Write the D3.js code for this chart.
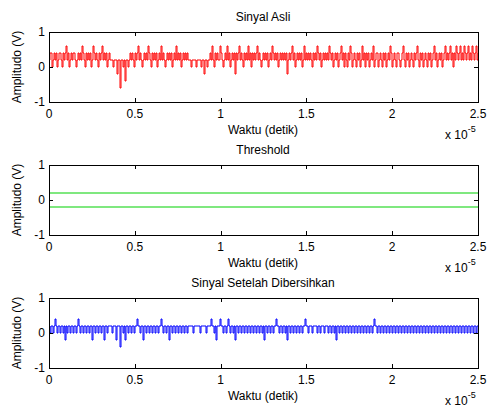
<!DOCTYPE html>
<meta charset="utf-8">
<script src="https://d3js.org/d3.v7.min.js"></script>
<style>
    body { margin: 0; background: #fff; }
    text { font-family: "Liberation Sans", Arial, sans-serif; font-size: 12px; fill: #000; }
    .box { fill: none; stroke: #000; stroke-width: 1; shape-rendering: crispEdges; }
    .tick { stroke: #000; stroke-width: 1; shape-rendering: crispEdges; }
</style>
<body>
<script>
    // tick labels
    var xTicks = [0, 0.5e-5, 1e-5, 1.5e-5, 2e-5, 2.5e-5]
    var xTickLabels = ["0", "0.5", "1", "1.5", "2", "2.5"]
    var yTicks = [-1, 0, 1]
    var titles = ["Sinyal Asli", "Threshold", "Sinyal Setelah Dibersihkan"]

    // sinyal asli (V)
    var sinyalAsli = [
        0.2,0.4,0.4,0,0.2,0.4,0.2,0.4,0,0.2, 0.4,0.4,0.2,0,0.4,0.2,0.4,0.6,0.2,0.4,
        0,0.2,0.4,0.2,0.4,0.4,0.2,0,0.2,0.4, 0.2,0.4,0.2,0.6,0.4,0.2,0,0.4,0.2,0.4,
        0.2,0.4,0,0.2,0.6,0.4,0.2,0.4,0.2,0, 0.4,0.2,0.4,0.6,0.2,0.4,0.2,0.4,0,0.2,
        0.4,0.2,0.2,0.2,0,0.2,0.2,0.2,-0.2,0.2, 0.2,-0.6,0.2,0.2,0,0.2,-0.4,0.2,0.2,0,
        0.2,0.4,0.2,0.4,0.2,0,0.4,0.2,0.4,0.6, 0.2,0.4,0.2,0,0.2,0.4,0.2,0.4,0.2,0.6,
        0.4,0.2,0,0.4,0.2,0.4,0.2,0.4,0,0.2, 0.4,0.2,0.6,0.2,0.4,0.2,0,0.2,0.4,0.2,
        0.4,0.2,0.4,0,0.2,0.4,0.2,0.6,0.2,0.4, 0.2,0.4,0,0.2,0.4,0.2,0.4,0.2,0.4,0.2,
        0.2,0.2,0,0.2,0.2,0.2,0.2,0,0.2,0.2, 0.2,0.2,0,0.2,0.2,-0.2,0.2,0.2,0,0.2,
        0.2,0.4,0.2,0.6,0.2,0,0.4,0.2,0.4,0.2, 0.2,0.6,0.4,0.2,0,0.2,0.4,0.2,0.6,0.2,
        0.4,0,0.2,0.4,0.2,0.4,-0.2,0.4,0.2,0.4, 0.6,0.2,0.4,0.2,0,0.4,0.2,0.4,0.2,0.6,
        0.2,0.4,0,0.4,0.2,0.4,0.2,0.4,0.6,0.2, 0.4,0.2,0,0.2,0.4,0.2,0.4,0.2,0.4,0,
        0.2,0.4,0.2,0.6,0.4,0.2,0.4,0.2,0.4,0, 0.2,0.4,0.2,0.4,0.2,0.4,0.2,0.4,-0.2,0.2,
        0.4,0.2,0.4,0.6,0.2,0.4,0,0.2,0.4,0.2, 0.4,0.2,0.4,0,0.2,0.6,0.2,0.4,0.2,0.4,
        0.2,0.4,0.2,0,0.4,0.2,0.4,0.2,0.6,0.4, 0.2,0.4,0,0.2,0.4,0.2,0.4,0.2,0.4,0.2,
        0.6,0.4,0.2,0.4,0,0.2,0.4,0.2,0.4,0, 0.2,0.4,0.6,0.2,0.4,0,0.4,0.2,0,0.4,
        0.2,0.6,0.4,0,0.2,0.4,0.2,0,0.4,0.2, 0.4,0,0.2,0.6,0.2,0.4,0,0.4,0.2,0.4,
        0,0.2,0.4,0.2,0.6,0,0.2,0.4,0.4,0, 0.2,0.4,0.2,0,0.4,0.2,0.4,0,0.2,0.4,
        0.2,0.6,0.4,0,0.2,0.4,0.2,0,0.4,0.4, 0.2,0,0.2,0.4,0.6,0.2,0,0.4,0.2,0.4,
        0,0.2,0.4,0.2,0,0.4,0.2,0.4,0.6,0.2, 0,0.4,0.2,0.4,0,0.2,0.4,0.2,0,0.4,
        0.2,0.4,0,0.2,0.4,0.6,0.2,0.4,0,0.2, 0.4,0.2,0.4,0,0.2,0.4,0.6,0.2,0.4,0.2,
        0.4,0.6,0.2,0.4,0,0.4,0.2,0.6,0.4,0.2, 0.4,0.6,0.2,0.4,0.2,0.6,0.4,0.2,0.4,0.6,
        0.2,0.4,0.2,0.6,0.4,0.2,0.4,0.6,0.2,0.4
    ]

    // threshold levels (V)
    var thresholdAtas = [0.2, 0.2]
    var thresholdBawah = [-0.2, -0.2]

    // sinyal setelah dibersihkan (V)
    var sinyalBersih = [
        0.2,0,0.2,0.2,0,0.2,0.4,0.2,0,0.2, 0.2,0,0.2,0.2,0,0.2,-0.2,0.2,0,0.2,
        0.2,0,0.2,0.2,0,0.2,0.2,0,0.2,0.4, 0.2,0,0.2,0.2,0,0.2,0.2,0,0.2,0.2,
        0,0.2,0.2,-0.2,0.2,0.2,0,0.2,0.2,0, 0.2,0.2,0,0.2,0.2,-0.2,0.2,0.2,0,0.2,
        0.2,0.2,0.2,0,0.2,0.2,0.2,-0.2,0.2,0.2, 0.2,-0.4,0.2,0.2,0,0.2,-0.2,0.2,0.2,0,
        0.2,0.2,0,0.2,0.2,0,0.2,0.2,0.4,0.2, 0.2,0,0.2,0.2,-0.2,0.2,0.2,0,0.2,0.2,
        0,0.2,0.2,0,0.2,0.2,0,0.2,0.2,0, 0.2,0.2,0.4,0.2,0,0.2,0.2,0,0.2,0.2,
        -0.2,0.2,0.2,0,0.2,0.2,0,0.2,0.2,0, 0.2,0.2,0,0.2,0.2,0,0.2,0.2,0,0.2,
        0.2,0.2,0.2,0.2,0,0.2,0.2,0.2,0.2,0.2, 0.2,0,0.2,0.2,0.2,0.2,0.2,0,0.2,0.2,
        0.2,0.2,0.4,0.2,0.2,0,0.2,-0.2,0.2,0.2, 0.2,0.4,0.2,0.2,0,0.2,0.2,0,0.2,0.4,
        0.2,0,0.2,0.2,0,0.2,-0.2,0.2,0.2,0, 0.2,0.2,0,0.2,0.2,0,0.2,0.2,0,0.2,
        0.2,0,0.2,0.2,0,0.2,0.2,0,0.2,0.2, 0,0.2,0.2,0,0.2,-0.2,0.2,0.2,0,0.2,
        0.2,0,0.2,0.2,0,0.2,0.2,0.4,0.2,0.2, 0,0.2,0.2,0,0.2,0.2,0,0.2,-0.2,0.2,
        0.2,0,0.2,0.2,0,0.2,0.2,0,0.2,0.2, 0,0.2,0.2,0,0.2,0.2,0.4,0.2,0.2,0,
        0.2,0.2,0.2,0,0.2,0.2,0.2,0.2,0,0.2, 0.2,0,0.2,0.2,0.2,0,0.2,0.2,0.2,0,
        0.2,0.2,0,0.2,0.2,0,0.2,-0.2,0.2,0.2, 0,0.2,0.2,0,0.2,0.2,0,0.2,0.2,0,
        0.2,0.2,0,0.2,0.2,0,0.2,0.2,0,0.2, 0.2,0,0.2,0.2,0,0.2,0.2,0,0.2,0.2,
        0,0.2,0.2,0,0.2,0.4,0.2,0.2,0,0.2, 0.2,0,0.2,0.2,0,0.2,0.2,0,0.2,0.2,
        0,0.2,0.2,0,0.2,0.2,0,0.2,0.2,0, 0.2,0.2,0,0.2,0.2,0,0.2,0.2,0,0.2,
        0.2,0,0.2,0.2,0,0.2,0.2,0,0.2,0.2, 0,0.2,0.2,0,0.2,0.2,0,0.2,0.2,0,
        0.2,0.2,0,0.2,0.2,0,0.2,0.2,0,0.2, 0.2,0,0.2,0.2,0,0.2,0.2,0,0.2,0.2,
        0,0.2,0.2,0,0.2,0.2,0,0.2,0.2,0, 0.2,0.2,0,0.2,0.2,0,0.2,0.2,0,0.2,
        0.2,0,0.2,0.2,0,0.2,0.2,0,0.2,0.2
    ]

    const width = 488, height = 407;
    const tEnd = 2.5e-5;

    var svg = d3.select("body").append("svg")
        .attr("width", width)
        .attr("height", height);

    var x = d3.scaleLinear().domain([0, tEnd]).range([49, 478]);

    function toPoints(vals) {
        var n = vals.length;
        return vals.map((v, i) => [i * tEnd / (n - 1), v]);
    }

    var panels = [
        {top: 32, series: [{pts: toPoints(sinyalAsli), col: "#ff0000", w: 1, curve: d3.curveStepAfter}]},
        {top: 165, series: [
            {pts: [[0, thresholdAtas[0]], [tEnd, thresholdAtas[1]]], col: "#55e055", w: 1.6, curve: d3.curveLinear},
            {pts: [[0, thresholdBawah[0]], [tEnd, thresholdBawah[1]]], col: "#55e055", w: 1.6, curve: d3.curveLinear}
        ]},
        {top: 298, series: [{pts: toPoints(sinyalBersih), col: "#0000ff", w: 1, curve: d3.curveStepAfter}]}
    ];

    panels.forEach(function (p, k) {
        var h = 70;
        var y = d3.scaleLinear().domain([-1, 1]).range([p.top + h, p.top]);
        var g = svg.append("g");

        p.series.forEach(function (s) {
            var line = d3.line().x(d => x(d[0])).y(d => y(d[1])).curve(s.curve);
            g.append("path")
                .attr("d", line(s.pts))
                .attr("fill", "none")
                .attr("stroke", s.col)
                .attr("stroke-width", s.w);
        });

        g.append("rect").attr("class", "box")
            .attr("x", 49.5).attr("y", p.top + 0.5)
            .attr("width", 429).attr("height", h);

        // ticks inside, mirrored
        xTicks.forEach(function (t, i) {
            var xx = Math.round(x(t)) + 0.5;
            g.append("line").attr("class", "tick")
                .attr("x1", xx).attr("x2", xx).attr("y1", p.top + h).attr("y2", p.top + h - 4);
            g.append("line").attr("class", "tick")
                .attr("x1", xx).attr("x2", xx).attr("y1", p.top).attr("y2", p.top + 4);
            g.append("text")
                .attr("x", x(t)).attr("y", p.top + h + 16)
                .attr("text-anchor", "middle")
                .text(xTickLabels[i]);
        });
        yTicks.forEach(function (v) {
            var yy = Math.round(y(v)) + 0.5;
            g.append("line").attr("class", "tick")
                .attr("x1", 49).attr("x2", 53).attr("y1", yy).attr("y2", yy);
            g.append("line").attr("class", "tick")
                .attr("x1", 478).attr("x2", 474).attr("y1", yy).attr("y2", yy);
            g.append("text")
                .attr("x", 45).attr("y", y(v) + 4)
                .attr("text-anchor", "end")
                .text(v);
        });

        g.append("text")
            .attr("x", 263).attr("y", p.top - 11)
            .attr("text-anchor", "middle")
            .text(titles[k]);

        g.append("text")
            .attr("x", 263).attr("y", p.top + h + 32)
            .attr("text-anchor", "middle")
            .text("Waktu (detik)");

        g.append("text")
            .attr("transform", "translate(21," + (p.top + h / 2) + ") rotate(-90)")
            .attr("text-anchor", "middle")
            .text("Amplitudo (V)");

        var ex = g.append("text")
            .attr("x", 445).attr("y", p.top + h + 37);
        ex.append("tspan").text("x 10");
        ex.append("tspan").attr("dy", -7).style("font-size", "9px").text("-5");
    });
</script>
</body>
